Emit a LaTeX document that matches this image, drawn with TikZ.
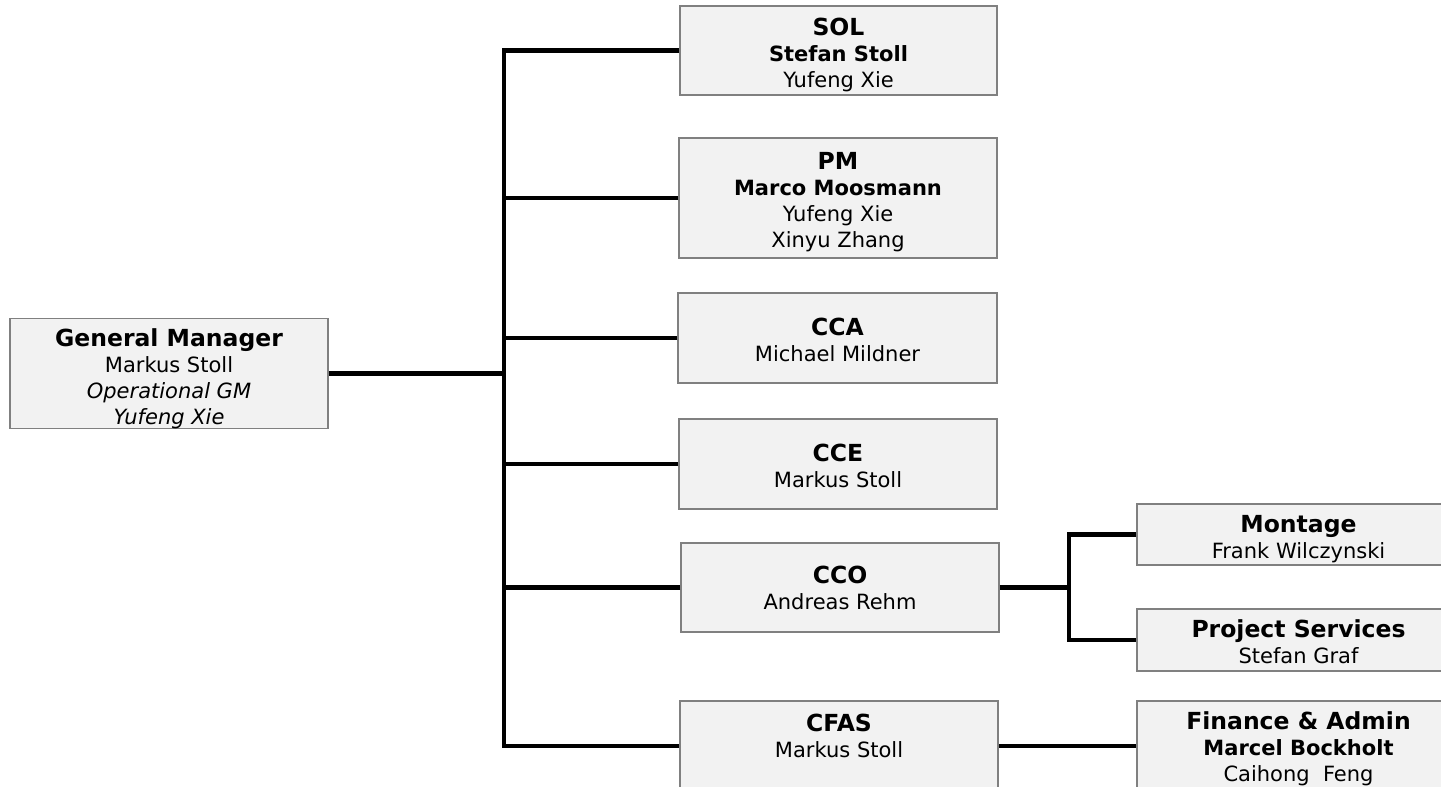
\documentclass[tikz,border=0pt]{standalone}
\usepackage{fontspec}
\setmainfont{DejaVu Sans}
\definecolor{boxfill}{HTML}{F2F2F2}
\definecolor{boxborder}{HTML}{808080}
\newcommand\boxtitle[2][2]{{\fontsize{23.5}{26}\selectfont\bfseries\rule{0pt}{\dimexpr 18pt+#1pt+#1pt\relax}#2}}
\newcommand\boxboss[1]{{\bfseries #1}}
\tikzset{
  box/.style={draw=boxborder, fill=boxfill, line width=1.5pt, align=center,
    inner sep=0pt, font=\fontsize{21}{26}\selectfont, text=black},
  conn/.style={line width=4.3pt, draw=black}
}
\begin{document}
\begin{tikzpicture}[x=1pt,y=-1pt]
\useasboundingbox (0,0) rectangle (1441,787);
\clip (0,0) rectangle (1441,787);
\fill[white] (0,0) rectangle (1441,787);

\node[box, minimum width=318, minimum height=107] (gm) at (169,373.5)
  {\boxtitle[5]{General Manager}\\Markus Stoll\\\itshape Operational GM\\\itshape Yufeng Xie};
\node[box, minimum width=317, minimum height=89] (sol) at (838.5,50.5)
  {\boxtitle[4]{SOL}\\\boxboss{Stefan Stoll}\\Yufeng Xie};
\node[box, minimum width=318, minimum height=120] (pm) at (838,198)
  {\boxtitle[4]{PM}\\\boxboss{Marco Moosmann}\\Yufeng Xie\\Xinyu Zhang};
\node[box, minimum width=319, minimum height=90] (cca) at (837.5,338)
  {\boxtitle[2]{CCA}\\Michael Mildner};
\node[box, minimum width=318, minimum height=90] (cce) at (838,464)
  {\boxtitle[2]{CCE}\\Markus Stoll};
\node[box, minimum width=318, minimum height=89] (cco) at (840,587.5)
  {\boxtitle[0.5]{CCO}\\Andreas Rehm};
\node[box, minimum width=318, minimum height=90] (cfas) at (839,746)
  {\boxtitle[6]{CFAS}\\Markus Stoll\\\strut};
\node[box, minimum width=323, minimum height=61] (mont) at (1298.5,534.5)
  {\boxtitle[4]{Montage}\\Frank Wilczynski};
\node[box, minimum width=323, minimum height=62] (ps) at (1298.5,640)
  {\boxtitle[2]{Project Services}\\Stefan Graf};
\node[box, minimum width=323, minimum height=90] (fa) at (1298.5,746)
  {\boxtitle[3]{Finance \& Admin}\\\boxboss{Marcel Bockholt}\\Caihong~~Feng};

\coordinate (tbot) at (504,746);
\coordinate (sj) at (1069,587.5);

\draw[conn] (sol.west) -| (tbot) -- (cfas.west);
\draw[conn] (pm.west) -- (pm.west -| tbot);
\draw[conn] (cca.west) -- (cca.west -| tbot);
\draw[conn] (gm.east) -- (gm.east -| tbot);
\draw[conn] (cce.west) -- (cce.west -| tbot);
\draw[conn] (cco.west) -- (cco.west -| tbot);
\draw[conn] (cco.east) -- (sj);
\draw[conn] (mont.west) -| (sj) |- (ps.west);
\draw[conn] (cfas.east) -- (fa.west);
\end{tikzpicture}
\end{document}
